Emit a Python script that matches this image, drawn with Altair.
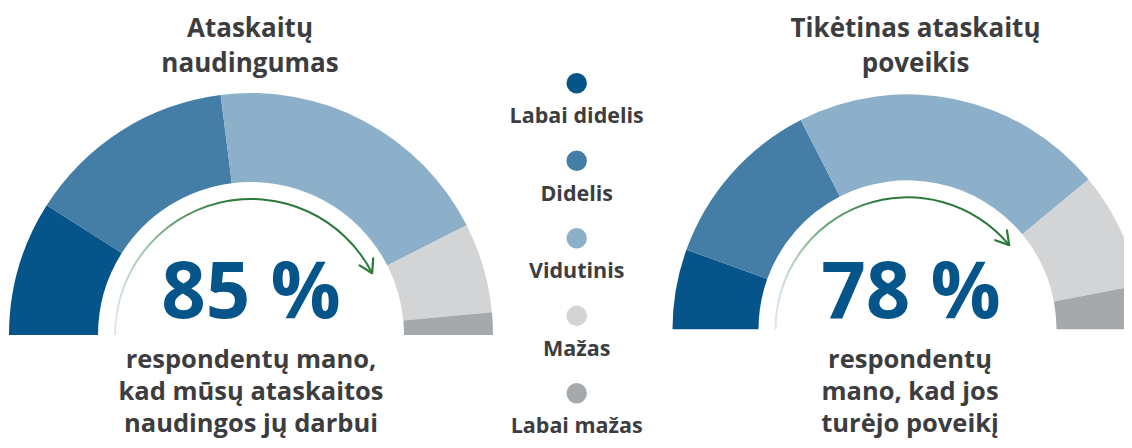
import math
import altair as alt
import pandas as pd

# ---- data ----
categories = ["Labai didelis", "Didelis", "Vidutinis", "Mažas", "Labai mažas"]
colors = ["#05548a", "#447ea6", "#8db0ca", "#d3d4d6", "#a6a9ac"]
usefulness = [18, 28, 39, 12, 3]   # left gauge (%)
impact = [11, 24, 43, 16, 6]       # right gauge (%)
headline = [85, 78]                # highlighted shares (%)
titles = [["Ataskaitų", "naudingumas"], ["Tikėtinas ataskaitų", "poveikis"]]
subtitles = [
    ["respondentų mano,", "kad mūsų ataskaitos", "naudingos jų darbui"],
    ["respondentų", "mano, kad jos", "turėjo poveikį"],
]

# ---- layout / style ----
W, H = 1116, 432
FONT = "Open Sans"
TEXT = "#3d3d3f"
BLUE = "#05548a"
GREEN = "#2b7a3b"
gauges = [
    dict(cx=243, cy=327, r=242, r2=153, ra=136, tx=242, nx=243, sx=243),
    dict(cx=899.5, cy=321.3, r=235, r2=149, ra=132, tx=907.5, nx=903, sx=902),
]

theta_scale = alt.Scale(domain=[0, 100], range=[-math.pi / 2, math.pi / 2])
color_scale = alt.Scale(domain=categories, range=colors)
one = pd.DataFrame({"k": [0]})

layers = []
for vals, pct, g, ttl, sub in zip([usefulness, impact], headline, gauges, titles, subtitles):
    df = pd.DataFrame({"cat": categories, "v": vals, "idx": list(range(len(categories)))})
    layers.append(
        alt.Chart(df)
        .mark_arc(radius=g["r"], radius2=g["r2"])
        .encode(
            theta=alt.Theta("v:Q", stack=True, scale=theta_scale),
            color=alt.Color("cat:N", scale=color_scale, legend=None),
            order=alt.Order("idx:Q"),
            x=alt.value(g["cx"]),
            y=alt.value(g["cy"]),
        )
    )
    adf = pd.DataFrame({"start": [0], "end": [pct]})
    grad = alt.Gradient(
        gradient="linear",
        stops=[
            alt.GradientStop(color="#dcebdf", offset=0),
            alt.GradientStop(color="#6aa476", offset=0.22),
            alt.GradientStop(color=GREEN, offset=0.45),
            alt.GradientStop(color=GREEN, offset=1),
        ],
        x1=0, x2=1, y1=0, y2=0,
    )
    layers.append(
        alt.Chart(adf)
        .mark_arc(radius=g["ra"] + 1, radius2=g["ra"] - 1, fill=grad)
        .encode(
            theta=alt.Theta("start:Q", scale=theta_scale, stack=False),
            theta2="end:Q",
            x=alt.value(g["cx"]),
            y=alt.value(g["cy"]),
        )
    )
    layers.append(
        alt.Chart(adf)
        .transform_calculate(phi="(-0.5 + datum.end / 100) * PI")
        .transform_calculate(
            px=f"{g['cx']} + {g['ra']} * sin(datum.phi)",
            py=f"{g['cy']} - {g['ra']} * cos(datum.phi)",
            rot="datum.phi * 180 / PI + 90",
        )
        .mark_point(
            shape="M -0.6 1 L 0 0 L 0.6 1",
            filled=False,
            stroke=GREEN,
            strokeWidth=2.2,
            strokeCap="round",
            strokeJoin="round",
            size=650,
            opacity=1,
        )
        .encode(
            x=alt.X("px:Q", scale=None),
            y=alt.Y("py:Q", scale=None),
            angle=alt.Angle("rot:Q", scale=None),
        )
    )
    ndf = pd.DataFrame({"pct": [pct]})
    layers.append(
        alt.Chart(ndf)
        .transform_calculate(label="datum.pct + ' %'")
        .mark_text(font=FONT, fontWeight="bold", fontSize=78, color=BLUE,
                   align="center", baseline="alphabetic")
        .encode(text="label:N", x=alt.value(g["nx"]), y=alt.value(310))
    )
    layers.append(
        alt.Chart(one)
        .mark_text(text=ttl, font=FONT, fontWeight="bold", fontSize=26, color=TEXT,
                   align="center", baseline="alphabetic", lineHeight=35)
        .encode(x=alt.value(g["tx"]), y=alt.value(29))
    )
    layers.append(
        alt.Chart(one)
        .mark_text(text=sub, font=FONT, fontWeight="bold", fontSize=25.5, color=TEXT,
                   align="center", baseline="alphabetic", lineHeight=32)
        .encode(x=alt.value(g["sx"]), y=alt.value(360))
    )

ldf = pd.DataFrame({"cat": categories})
ly = alt.Scale(type="point", domain=categories, range=[75.3, 385.3], padding=0)
layers.append(
    alt.Chart(ldf)
    .mark_circle(size=420, opacity=1)
    .encode(
        x=alt.value(568.7),
        y=alt.Y("cat:N", scale=ly, axis=None),
        color=alt.Color("cat:N", scale=color_scale, legend=None),
    )
)
layers.append(
    alt.Chart(ldf)
    .mark_text(font=FONT, fontWeight="bold", fontSize=21.5, color=TEXT,
               align="center", baseline="alphabetic", dy=40)
    .encode(
        x=alt.value(568.7),
        y=alt.Y("cat:N", scale=ly, axis=None),
        text="cat:N",
    )
)

chart = (
    alt.layer(*layers)
    .properties(width=W, height=H, padding=0,
                autosize=alt.AutoSizeParams(type="none"), background="white")
    .configure_view(stroke=None)
)

chart.save("out.html", embed_options={"renderer": "svg", "actions": False})
